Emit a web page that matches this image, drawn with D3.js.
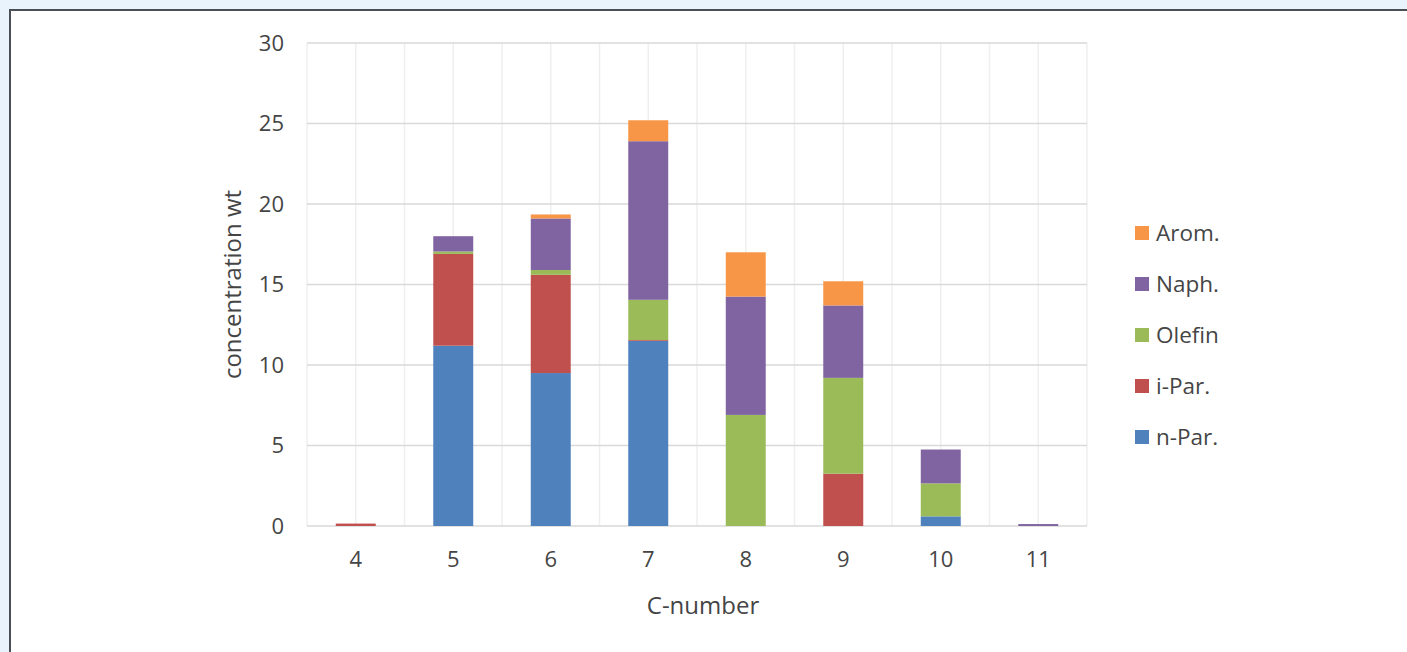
<!DOCTYPE html>
<html>
<head>
<meta charset="utf-8">
<script src="https://cdn.jsdelivr.net/npm/d3@7"></script>
<style>
  html, body { margin: 0; padding: 0; background: #e8f3fb; }
  svg { display: block; }
  text { font-family: "Open Sans", "Noto Sans", sans-serif; fill: #454545; }
</style>
</head>
<body>
<svg id="chart" width="1407" height="652"></svg>
<script>
// Carbon-number distribution by hydrocarbon group (wt)
const cNumbers = ["4", "5", "6", "7", "8", "9", "10", "11"];
const nPar   = [0,    11.2, 9.5,  11.5, 0,    0,    0.6,  0];
const iPar   = [0.15, 5.7,  6.1,  0.05, 0,    3.25, 0,    0];
const olefin = [0,    0.15, 0.3,  2.5,  6.9,  5.95, 2.05, 0];
const naph   = [0,    0.95, 3.2,  9.85, 7.35, 4.5,  2.1,  0.12];
const arom   = [0,    0,    0.25, 1.3,  2.75, 1.5,  0,    0];

const seriesNames  = ["n-Par.", "i-Par.", "Olefin", "Naph.", "Arom."];
const seriesColors = ["#4f81bd", "#c0504d", "#9bbb59", "#8064a2", "#f79646"];
const yTicks = [0, 5, 10, 15, 20, 25, 30];

const rows = cNumbers.map((c, i) => ({
  c,
  "n-Par.": nPar[i],
  "i-Par.": iPar[i],
  "Olefin": olefin[i],
  "Naph.": naph[i],
  "Arom.": arom[i]
}));

const svg = d3.select("#chart");
const W = 1407, H = 652;
const textColor = "#454545";

// framed white panel
svg.append("rect").attr("x", 10).attr("y", 10).attr("width", W - 10).attr("height", H - 10)
  .attr("fill", "#ffffff");
svg.append("path").attr("d", `M10,${H} V10 H${W}`)
  .attr("fill", "none").attr("stroke", "#4a4f55").attr("stroke-width", 2);

const plot = { left: 307, right: 1087, top: 43, bottom: 526 };

const x = d3.scaleBand().domain(cNumbers).range([plot.left, plot.right]).paddingInner(0).paddingOuter(0);
const y = d3.scaleLinear().domain([0, 30]).range([plot.bottom, plot.top]);
const barW = x.bandwidth() * 0.41;

// vertical gridlines at every category centre and boundary
const vLines = [];
cNumbers.forEach(c => {
  vLines.push(x(c));
  vLines.push(x(c) + x.bandwidth() / 2);
});
vLines.push(plot.right);
svg.append("g").selectAll("line").data(vLines).join("line")
  .attr("x1", d => d).attr("x2", d => d)
  .attr("y1", plot.top).attr("y2", plot.bottom)
  .attr("stroke", "#efefef").attr("stroke-width", 1.5);

// horizontal gridlines
svg.append("g").selectAll("line").data(yTicks).join("line")
  .attr("x1", plot.left).attr("x2", plot.right)
  .attr("y1", d => y(d)).attr("y2", d => y(d))
  .attr("stroke", "#d9d9d9").attr("stroke-width", 1.6);

// stacked bars
const stack = d3.stack().keys(seriesNames)(rows);
svg.append("g").selectAll("g").data(stack).join("g")
  .attr("fill", (d, i) => seriesColors[i])
  .selectAll("rect").data(d => d).join("rect")
  .attr("x", d => x(d.data.c) + (x.bandwidth() - barW) / 2)
  .attr("width", barW)
  .attr("y", d => y(d[1]))
  .attr("height", d => Math.max(0, y(d[0]) - y(d[1])));

// y axis tick labels
const yAxis = d3.axisLeft(y).tickValues(yTicks).tickSize(0).tickPadding(0);
const gy = svg.append("g").attr("transform", `translate(284,0)`).call(yAxis);
gy.select(".domain").remove();
gy.selectAll("text").attr("font-size", 22).attr("fill", textColor)
  .attr("font-family", "'Open Sans', sans-serif");

// x axis tick labels
const xAxis = d3.axisBottom(x).tickSize(0).tickPadding(0);
const gx = svg.append("g").attr("transform", `translate(0,551)`).call(xAxis);
gx.select(".domain").remove();
gx.selectAll("text").attr("font-size", 22).attr("fill", textColor)
  .attr("font-family", "'Open Sans', sans-serif");

// axis titles
svg.append("text").attr("x", (plot.left + plot.right) / 2 + 6).attr("y", 614)
  .attr("text-anchor", "middle").attr("font-size", 24).attr("fill", textColor).text("C-number");
svg.append("text")
  .attr("transform", `translate(241,${(plot.top + plot.bottom) / 2}) rotate(-90)`)
  .attr("text-anchor", "middle").attr("font-size", 24).attr("fill", textColor).text("concentration wt");

// legend, top entry is the top of the stack
const legendItems = seriesNames.map((n, i) => ({ n, c: seriesColors[i] })).reverse();
const lg = svg.append("g").selectAll("g").data(legendItems).join("g")
  .attr("transform", (d, i) => `translate(1135,${233 + i * 51})`);
lg.append("rect").attr("x", 0).attr("y", -7).attr("width", 14).attr("height", 14)
  .attr("fill", d => d.c);
lg.append("text").attr("x", 21).attr("y", 0).attr("dy", "0.36em")
  .attr("font-size", 22.5).attr("fill", textColor).text(d => d.n);
</script>
</body>
</html>
